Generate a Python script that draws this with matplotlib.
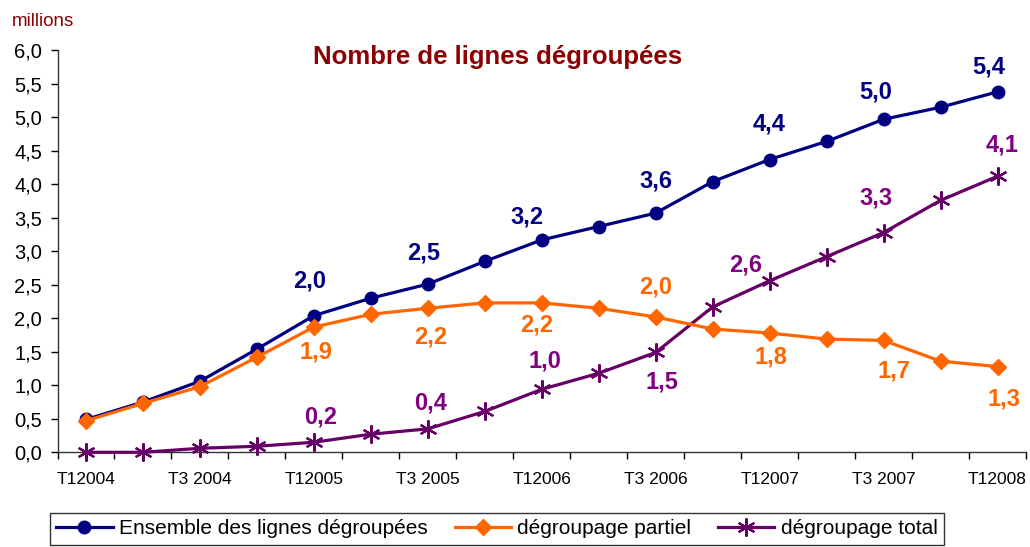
import matplotlib
matplotlib.use("Agg")
import matplotlib.pyplot as plt
from matplotlib.ticker import FuncFormatter, FixedLocator

plt.rcParams['font.family'] = ['Liberation Sans', 'DejaVu Sans']

quarters = ["T12004", "T2 2004", "T3 2004", "T4 2004",
            "T12005", "T2 2005", "T3 2005", "T4 2005",
            "T12006", "T2 2006", "T3 2006", "T4 2006",
            "T12007", "T2 2007", "T3 2007", "T4 2007",
            "T12008"]
ensemble = [0.49, 0.75, 1.06, 1.54, 2.04, 2.30, 2.51, 2.85, 3.17, 3.37,
            3.57, 4.04, 4.37, 4.64, 4.97, 5.15, 5.38]
partiel = [0.47, 0.73, 0.98, 1.42, 1.87, 2.06, 2.15, 2.23, 2.23, 2.15,
           2.02, 1.84, 1.78, 1.69, 1.67, 1.36, 1.28]
total = [0.0, 0.0, 0.06, 0.09, 0.15, 0.27, 0.35, 0.61, 0.94, 1.18,
         1.49, 2.17, 2.56, 2.92, 3.28, 3.76, 4.12]

series_names = ["Ensemble des lignes dégroupées", "dégroupage partiel", "dégroupage total"]

# labelled points: (index, text, dx px, dy px)
ens_labels = [(4, "2,0", -4, 35), (6, "2,5", -4, 31), (8, "3,2", -15, 23),
              (10, "3,6", 0, 32), (12, "4,4", -1, 36), (14, "5,0", -8, 27),
              (16, "5,4", -9, 25)]
par_labels = [(4, "1,9", 2, -25), (6, "2,2", 3, -29), (8, "2,2", -5, -22),
              (10, "2,0", 0, 30), (12, "1,8", 1, -24), (14, "1,7", 10, -31),
              (16, "1,3", 6, -32)]
tot_labels = [(4, "0,2", 7, 25), (6, "0,4", 3, 26), (8, "1,0", 3, 28),
              (10, "1,5", 6, -30), (12, "2,6", -24, 16), (14, "3,3", -8, 35),
              (16, "4,1", 5, 31)]

c_ens = "#000080"
c_par = "#FF6600"
c_tot_line = "#660066"
c_tot_lab = "#800080"
c_title = "#8B0000"

fig = plt.figure(figsize=(10.30, 5.47), dpi=100)
ax = fig.add_axes([57.5/1030, 1 - 452.3/547, (1026 - 57.5)/1030, (452.3 - 50.3)/547])

x = list(range(len(quarters)))
l1, = ax.plot(x, ensemble, color=c_ens, lw=2.3, marker='o', markersize=9,
              markerfacecolor=c_ens, markeredgecolor=c_ens, clip_on=False, zorder=4)
l2, = ax.plot(x, partiel, color=c_par, lw=2.3, marker='D', markersize=8.5,
              markerfacecolor=c_par, markeredgecolor=c_par, clip_on=False, zorder=5)
l3, = ax.plot(x, total, color=c_tot_line, lw=2.3, marker=(6, 2, 0), markersize=13,
              markeredgewidth=1.6, markeredgecolor=c_tot_line, clip_on=False, zorder=3)

for labels, vals, col in [(ens_labels, ensemble, c_ens), (par_labels, partiel, c_par),
                          (tot_labels, total, c_tot_lab)]:
    for i, txt, dx, dy in labels:
        ax.annotate(txt, (x[i], vals[i]), xytext=(dx, dy), textcoords='offset pixels',
                    ha='center', va='center', fontsize=17, fontweight='bold', color=col)

ax.set_xlim(-0.5, len(quarters) - 0.5)
ax.set_ylim(0, 6)
ax.set_yticks([i * 0.5 for i in range(13)])
ax.yaxis.set_major_formatter(FuncFormatter(lambda v, p: f"{v:.1f}".replace('.', ',')))
ax.tick_params(axis='y', labelsize=14.5, length=5, width=1, colors='black', pad=6)

ax.xaxis.set_major_locator(FixedLocator([i - 0.5 for i in range(len(quarters) + 1)]))
ax.xaxis.set_major_formatter(FuncFormatter(lambda v, p: ""))
ax.xaxis.set_minor_locator(FixedLocator(x[::2]))
ax.set_xticklabels([q for q in quarters[::2]], minor=True)
ax.tick_params(axis='x', which='major', length=5, width=1, direction='out')
ax.tick_params(axis='x', which='minor', length=0, labelsize=12.5, pad=14)

for s in ['top', 'right']:
    ax.spines[s].set_visible(False)
for s in ['left', 'bottom']:
    ax.spines[s].set_linewidth(1)
    ax.spines[s].set_color('#333333')

fig.text(12/1030, 1 - 22/547, "millions", color=c_title, fontsize=13.5, ha='left', va='center')
fig.text(498/1030, 1 - 57/547, "Nombre de lignes dégroupées", color=c_title,
         fontsize=18.5, fontweight='bold', ha='center', va='center')

leg = fig.legend([l1, l2, l3], series_names, loc='upper left',
                 bbox_to_anchor=(50/1030, 1 - 513/547), ncol=3, frameon=True,
                 fancybox=False, edgecolor='black', fontsize=15, handlelength=2.7,
                 columnspacing=1.3, handletextpad=0.3, borderpad=0.3,
                 borderaxespad=0)
leg.get_frame().set_linewidth(1)

fig.savefig("out.png", dpi=100)
